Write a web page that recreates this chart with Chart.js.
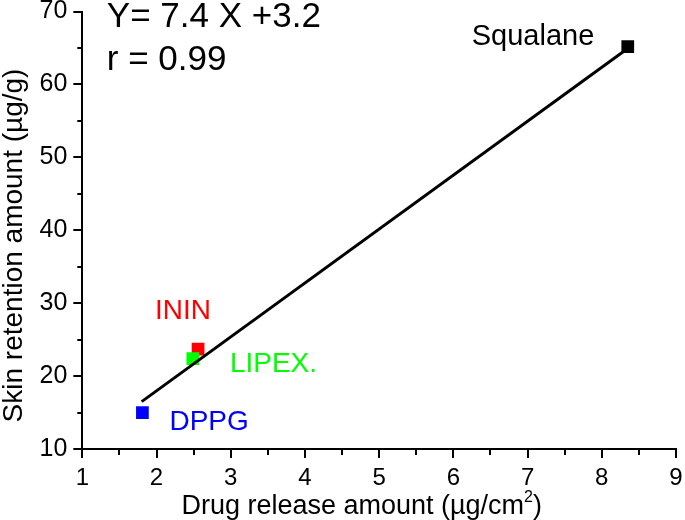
<!DOCTYPE html>
<html>
<head>
<meta charset="utf-8">
<script src="https://cdn.jsdelivr.net/npm/chart.js@4/dist/chart.umd.min.js"></script>
<style>
  html, body { margin: 0; padding: 0; background: #fff; }
  #wrap { width: 685px; height: 520px; position: relative; }
</style>
</head>
<body>
<div id="wrap"><canvas id="c" width="685" height="520"></canvas></div>
<script>
// ---- data ----
const sampleNames = ['LIPEX.', 'ININ', 'DPPG', 'Squalane'];
const releaseX = [2.49, 2.56, 1.81, 8.35];      // Drug release amount (µg/cm²)
const retentionY = [22.4, 23.7, 15.0, 65.2];    // Skin retention amount (µg/g)
const fitLineX = [1.8, 8.33];
const fitLineY = [16.5, 64.8];
const xTicks = [1, 2, 3, 4, 5, 6, 7, 8, 9];
const yTicks = [10, 20, 30, 40, 50, 60, 70];
const equationText = 'Y= 7.4 X +3.2';
const rText = 'r = 0.99';
const xTitle = 'Drug release amount (µg/cm';
const xTitleSup = '2';
const yTitle = 'Skin retention amount (µg/g)';

// ---- styles ----
const sampleColors = ['#00ff00', '#ff0000', '#0000ff', '#000000'];
const labelOffsets = [[37, 13], [-43, -30], [27, 17], [-156, -2]];
const labelSizes = [28, 28, 28, 29];
const FONT = '"Liberation Sans", Arial, sans-serif';

const datasets = [{
  type: 'line',
  data: fitLineX.map((x, i) => ({ x, y: fitLineY[i] })),
  borderColor: '#000',
  borderWidth: 3,
  pointRadius: 0,
  fill: false
}];
sampleNames.forEach((n, i) => {
  datasets.push({
    type: 'scatter',
    label: n,
    data: [{ x: releaseX[i], y: retentionY[i] }],
    pointStyle: 'rect',
    pointRadius: 9,
    pointHoverRadius: 9,
    borderWidth: 0,
    backgroundColor: sampleColors[i],
    borderColor: sampleColors[i]
  });
});

const textPlugin = {
  id: 'texts',
  afterDraw(chart) {
    const ctx = chart.ctx;
    const xs = chart.scales.x, ys = chart.scales.y;
    const ca = chart.chartArea;
    ctx.save();
    // minor ticks
    ctx.strokeStyle = '#000';
    ctx.lineWidth = 2;
    ctx.beginPath();
    for (let i = 0; i < xTicks.length - 1; i++) {
      const px = Math.round(xs.getPixelForValue((xTicks[i] + xTicks[i + 1]) / 2));
      ctx.moveTo(px, ca.bottom);
      ctx.lineTo(px, ca.bottom + 6);
    }
    for (let i = 0; i < yTicks.length - 1; i++) {
      const py = Math.round(ys.getPixelForValue((yTicks[i] + yTicks[i + 1]) / 2));
      ctx.moveTo(ca.left, py);
      ctx.lineTo(ca.left - 5, py);
    }
    ctx.stroke();

    // point labels
    ctx.textBaseline = 'alphabetic';
    ctx.textAlign = 'left';
    sampleNames.forEach((n, i) => {
      const px = xs.getPixelForValue(releaseX[i]);
      const py = ys.getPixelForValue(retentionY[i]);
      ctx.font = labelSizes[i] + 'px ' + FONT;
      ctx.fillStyle = sampleColors[i];
      ctx.fillText(n, px + labelOffsets[i][0], py + labelOffsets[i][1]);
    });

    // equation
    ctx.fillStyle = '#000';
    ctx.font = '35px ' + FONT;
    ctx.fillText(equationText, ca.left + 24.5, ca.top + 15);
    ctx.fillText(rText, ca.left + 24.5, ca.top + 58.5);

    // x title with superscript
    ctx.font = '27px ' + FONT;
    const w1 = ctx.measureText(xTitle).width;
    const w3 = ctx.measureText(')').width;
    ctx.font = '16px ' + FONT;
    const w2 = ctx.measureText(xTitleSup).width;
    const total = w1 + w2 + w3;
    let x0 = 361.7 - total / 2;
    const base = 514;
    ctx.font = '27px ' + FONT;
    ctx.fillText(xTitle, x0, base);
    ctx.font = '16px ' + FONT;
    ctx.fillText(xTitleSup, x0 + w1, base - 12);
    ctx.font = '27px ' + FONT;
    ctx.fillText(')', x0 + w1 + w2, base);

    // y title
    ctx.font = '28px ' + FONT;
    ctx.translate(22, 245.5);
    ctx.rotate(-Math.PI / 2);
    ctx.textAlign = 'center';
    ctx.fillText(yTitle, 0, 0);
    ctx.restore();
  }
};

new Chart(document.getElementById('c'), {
  data: { datasets },
  options: {
    responsive: false,
    animation: false,
    events: [],
    layout: { padding: { top: 11.6, right: 8.3, left: 0, bottom: 0 } },
    plugins: { legend: { display: false }, tooltip: { enabled: false } },
    scales: {
      x: {
        type: 'linear',
        min: 1, max: 9,
        afterBuildTicks(s) { s.ticks = xTicks.map(v => ({ value: v })); },
        afterFit(s) { s.height = 71; s.paddingLeft = 0; s.paddingRight = 0; },
        grid: { drawOnChartArea: false, drawTicks: true, tickLength: 9, tickWidth: 2, tickColor: '#000', lineWidth: 2, color: '#000' },
        border: { display: true, width: 2, color: '#000' },
        ticks: { color: '#000', font: { size: 24, family: FONT }, padding: 6, maxRotation: 0 }
      },
      y: {
        type: 'linear',
        min: 10, max: 70,
        afterBuildTicks(s) { s.ticks = yTicks.map(v => ({ value: v })); },
        afterFit(s) { s.width = 82.3; s.paddingTop = 0; s.paddingBottom = 0; },
        grid: { drawOnChartArea: false, drawTicks: true, tickLength: 9, tickWidth: 2, tickColor: '#000', lineWidth: 2, color: '#000' },
        border: { display: true, width: 2, color: '#000' },
        ticks: { color: '#000', font: { size: 25, family: FONT }, padding: 6 }
      }
    }
  },
  plugins: [textPlugin]
});
</script>
</body>
</html>
